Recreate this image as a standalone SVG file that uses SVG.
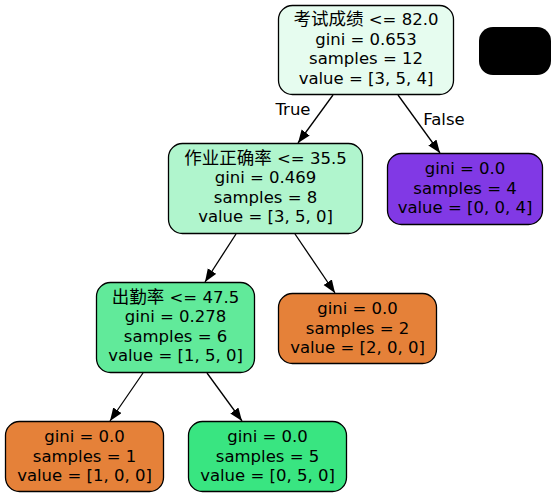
<svg xmlns="http://www.w3.org/2000/svg" width="555" height="497" viewBox="0 0 555 497">
<style>
.n rect{stroke:#000;stroke-width:1.3}
text{font-family:"DejaVu Sans","Noto Sans CJK SC",sans-serif;font-size:16.5px;text-anchor:middle;fill:#000}
.e line{stroke:#000;stroke-width:1.3}
</style>
<defs>
<marker id="ah" markerUnits="userSpaceOnUse" markerWidth="14" markerHeight="11" refX="13" refY="5" orient="auto">
<path d="M0,0 L13,5 L0,10 z" fill="#000"/>
</marker>
</defs>
<rect width="555" height="497" fill="#fff"/>
<g class="e" id="edges">
<line x1="333" y1="95" x2="298" y2="143" marker-end="url(#ah)"/>
<line x1="398" y1="95" x2="440" y2="153" marker-end="url(#ah)"/>
<line x1="236" y1="234" x2="205" y2="282" marker-end="url(#ah)"/>
<line x1="295" y1="234" x2="335" y2="293" marker-end="url(#ah)"/>
<line x1="143" y1="373" x2="110" y2="421" marker-end="url(#ah)"/>
<line x1="207" y1="373" x2="242" y2="421" marker-end="url(#ah)"/>
<text x="293" y="115">True</text>
<text x="444" y="125">False</text>
</g>
<g class="n" id="n0">
<rect x="278.5" y="5.5" width="175" height="89" rx="14" fill="#e6fcef"/>
<text x="366" y="25"><tspan font-size="17.5">考试成绩</tspan> &lt;= 82.0</text>
<text x="366" y="44.5">gini = 0.653</text>
<text x="366" y="64">samples = 12</text>
<text x="366" y="83.5">value = [3, 5, 4]</text>
</g>
<g id="legend">
<rect x="479" y="27" width="72" height="48" rx="14" fill="#000"/>
</g>
<g class="n" id="n1">
<rect x="168.5" y="143.5" width="194" height="90" rx="14" fill="#b0f5cd"/>
<text x="265.5" y="163.5"><tspan font-size="17.5">作业正确率</tspan> &lt;= 35.5</text>
<text x="265.5" y="183">gini = 0.469</text>
<text x="265.5" y="202.5">samples = 8</text>
<text x="265.5" y="222">value = [3, 5, 0]</text>
</g>
<g class="n" id="n2">
<rect x="387.5" y="153.5" width="155" height="71" rx="14" fill="#8139e5"/>
<text x="465" y="174">gini = 0.0</text>
<text x="465" y="193.5">samples = 4</text>
<text x="465" y="213">value = [0, 0, 4]</text>
</g>
<g class="n" id="n3">
<rect x="96.5" y="282.5" width="158" height="90" rx="14" fill="#61ea9a"/>
<text x="175.5" y="302.5"><tspan font-size="17.5">出勤率</tspan> &lt;= 47.5</text>
<text x="175.5" y="322">gini = 0.278</text>
<text x="175.5" y="341.5">samples = 6</text>
<text x="175.5" y="361">value = [1, 5, 0]</text>
</g>
<g class="n" id="n4">
<rect x="278.5" y="293.5" width="158" height="70" rx="14" fill="#e58139"/>
<text x="357.5" y="314">gini = 0.0</text>
<text x="357.5" y="333.5">samples = 2</text>
<text x="357.5" y="353">value = [2, 0, 0]</text>
</g>
<g class="n" id="n5">
<rect x="5.5" y="421.5" width="158" height="70" rx="14" fill="#e58139"/>
<text x="84.5" y="442">gini = 0.0</text>
<text x="84.5" y="461.5">samples = 1</text>
<text x="84.5" y="481">value = [1, 0, 0]</text>
</g>
<g class="n" id="n6">
<rect x="188.5" y="421.5" width="158" height="70" rx="14" fill="#39e581"/>
<text x="267.5" y="442">gini = 0.0</text>
<text x="267.5" y="461.5">samples = 5</text>
<text x="267.5" y="481">value = [0, 5, 0]</text>
</g>
</svg>
